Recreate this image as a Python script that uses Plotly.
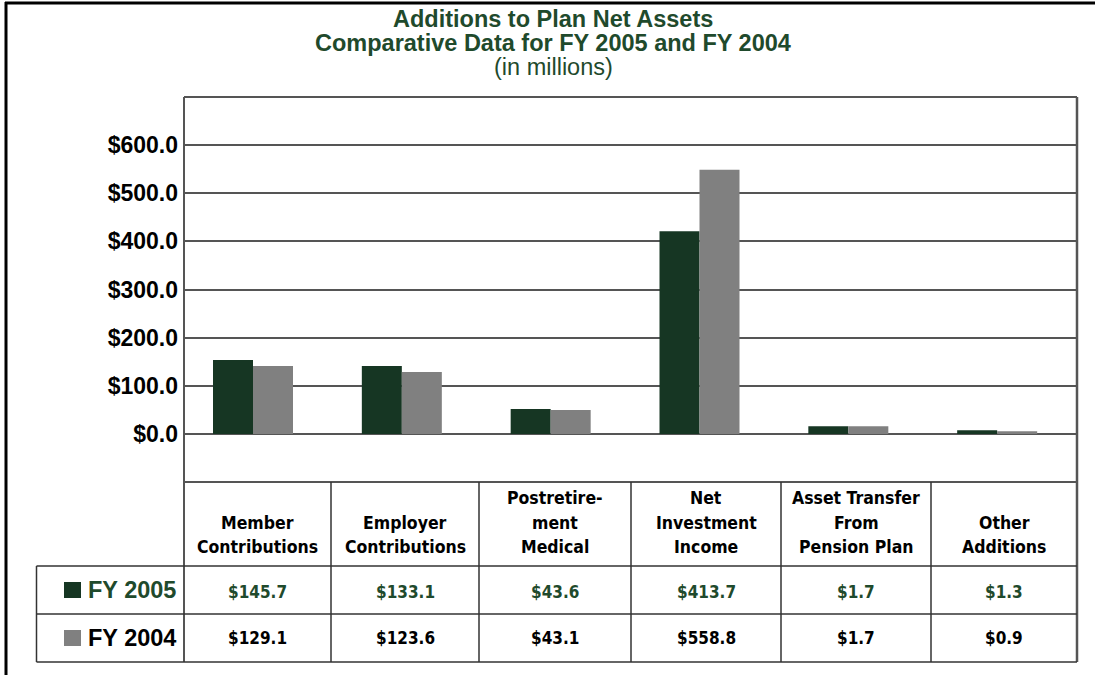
import plotly.graph_objects as go

# ---------------- data ----------------
categories = ["Member<br>Contributions", "Employer<br>Contributions", "Postretire-<br>ment<br>Medical",
              "Net<br>Investment<br>Income", "Asset Transfer<br>From<br>Pension Plan", "Other<br>Additions"]
series_names = ["FY 2005", "FY 2004"]
bars_fy2005 = [153.5, 141.0, 51.5, 421.0, 16.0, 7.7]     # bar heights as drawn
bars_fy2004 = [141.0, 128.5, 49.4, 549.0, 16.0, 5.6]
table_fy2005 = ["$145.7", "$133.1", "$43.6", "$413.7", "$1.7", "$1.3"]
table_fy2004 = ["$129.1", "$123.6", "$43.1", "$558.8", "$1.7", "$0.9"]
y_ticks = [0, 100, 200, 300, 400, 500, 600]
y_tick_labels = ["$0.0", "$100.0", "$200.0", "$300.0", "$400.0", "$500.0", "$600.0"]
title_lines = ["Additions to Plan Net Assets", "Comparative Data for FY 2005 and FY 2004", "(in millions)"]

# ---------------- styling ----------------
W, H = 1095, 675
GREEN = "#163623"
GREEN_TXT = "#1f4a2c"
GRAY = "#808080"
LINE = "#555555"
TLINE = "#333333"
FONT = "Liberation Sans, Arial, Helvetica, sans-serif"
NARROW = "Liberation Sans Narrow, Arial Narrow, DejaVu Sans Condensed, sans-serif"

def X(px):
    return px / W

def Y(py):
    return 1 - py / H

PL, PR, PT, PB = 184, 1077, 97, 482          # plot box in pixels
col_edges = [184, 331, 479, 631, 781, 931, 1077]
row_edges = [482, 566, 614, 662]
table_left = 36.5

fig = go.Figure()
fig.add_trace(go.Bar(x=list(range(6)), y=bars_fy2005, name=series_names[0],
                     marker=dict(color=GREEN, line=dict(width=0))))
fig.add_trace(go.Bar(x=list(range(6)), y=bars_fy2004, name=series_names[1],
                     marker=dict(color=GRAY, line=dict(width=0))))

unit = (PR - PL) / 6.0
r0 = -(253 - PL) / unit
fig.update_layout(
    width=W, height=H,
    margin=dict(l=0, r=0, t=0, b=0),
    paper_bgcolor="white", plot_bgcolor="white",
    showlegend=False,
    barmode="group", bargap=1 - 80 / unit, bargroupgap=0,
    xaxis=dict(domain=[X(PL), X(PR)], range=[r0, r0 + 6], showticklabels=False,
               showgrid=False, zeroline=False, showline=False, ticks=""),
    yaxis=dict(domain=[Y(PB), Y(PT)], range=[-100, 700], tickvals=y_ticks, ticktext=y_tick_labels,
               showgrid=True, gridcolor=LINE, gridwidth=2, zeroline=False, showline=False,
               ticks="", ticklabelstandoff=5,
               tickfont=dict(family=FONT, size=23, color="black", weight="bold")),
)

shapes = []
def hline(y, x0, x1, color, w):
    shapes.append(dict(type="line", xref="paper", yref="paper", x0=X(x0), x1=X(x1), y0=Y(y), y1=Y(y),
                       line=dict(color=color, width=w)))
def vline(x, y0, y1, color, w):
    shapes.append(dict(type="line", xref="paper", yref="paper", x0=X(x), x1=X(x), y0=Y(y0), y1=Y(y1),
                       line=dict(color=color, width=w)))

# outer frame (top & left)
hline(3, 5, W, "black", 3)
vline(6, 2, H, "black", 3)
# plot box
hline(PT, PL, PR, LINE, 2)
vline(PL, PT, row_edges[-1], LINE, 2)
vline(PR, PT, row_edges[-1], LINE, 2.5)
hline(PB, PL, PR, LINE, 2)
# table
for ry in row_edges[1:]:
    hline(ry, table_left, PR, TLINE, 1.5)
vline(table_left, row_edges[1], row_edges[-1], TLINE, 1.5)
for cx in col_edges[1:-1]:
    vline(cx, row_edges[0], row_edges[-1], TLINE, 1.5)
# legend squares
for i, col in enumerate([GREEN, GRAY]):
    cy = (row_edges[1 + i] + row_edges[2 + i]) / 2
    shapes.append(dict(type="rect", xref="paper", yref="paper", x0=X(64), x1=X(81),
                       y0=Y(cy + 8), y1=Y(cy - 8), fillcolor=col, line=dict(width=0)))

ann = []
# title
for i, t in enumerate(title_lines):
    ann.append(dict(text=t, x=X(553), y=Y(19 + 24 * i), xref="paper", yref="paper",
                    showarrow=False, xanchor="center", yanchor="middle",
                    font=dict(family=FONT, size=23.5, color=GREEN_TXT,
                              weight="bold" if i < 2 else "normal")))

# header and values
for k in range(6):
    cx = (col_edges[k] + col_edges[k + 1]) / 2
    lines = categories[k].split("<br>")
    for j, ln in enumerate(reversed(lines)):
        ann.append(dict(text=ln, x=X(cx), y=Y(547 - 24.5 * j), xref="paper", yref="paper",
                        showarrow=False, xanchor="center", yanchor="middle",
                        font=dict(family=NARROW, size=17.5, color="black", weight="bold")))
    ann.append(dict(text=table_fy2005[k], x=X(cx), y=Y(592), xref="paper", yref="paper",
                    showarrow=False, xanchor="center", yanchor="middle",
                    font=dict(family=NARROW, size=17, color=GREEN_TXT, weight="bold")))
    ann.append(dict(text=table_fy2004[k], x=X(cx), y=Y(638), xref="paper", yref="paper",
                    showarrow=False, xanchor="center", yanchor="middle",
                    font=dict(family=NARROW, size=17, color="black", weight="bold")))

# row labels
for i, (nm, col) in enumerate(zip(series_names, [GREEN_TXT, "black"])):
    cy = (row_edges[1 + i] + row_edges[2 + i]) / 2
    ann.append(dict(text=nm, x=X(178), y=Y(cy), xref="paper", yref="paper",
                    showarrow=False, xanchor="right", yanchor="middle",
                    font=dict(family=FONT, size=23.5, color=col, weight="bold")))

fig.update_layout(shapes=shapes, annotations=ann)
fig.write_html("out.html", config={"displayModeBar": False},
               post_script="document.body.style.margin='0';document.body.style.overflow='hidden';")
